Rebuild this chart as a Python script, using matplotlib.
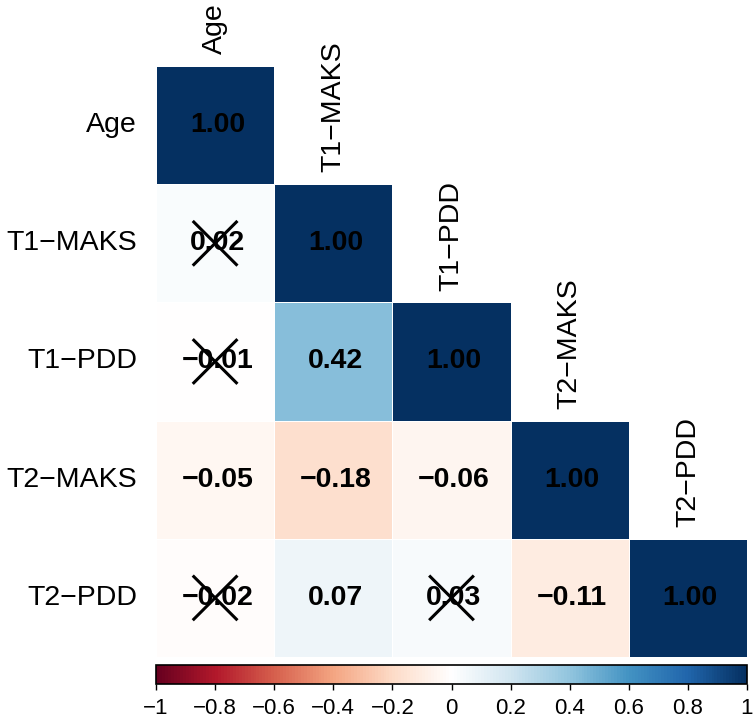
import numpy as np
import matplotlib
matplotlib.use('Agg')
import matplotlib.pyplot as plt
from matplotlib.colors import LinearSegmentedColormap, Normalize
from matplotlib.cm import ScalarMappable

plt.rcParams['font.family'] = ['Liberation Sans', 'DejaVu Sans']

variables = ['Age', 'T1−MAKS', 'T1−PDD', 'T2−MAKS', 'T2−PDD']

# lower triangle of correlation matrix, row by row
corr_rows = [
    [1.00],
    [0.02, 1.00],
    [-0.01, 0.42, 1.00],
    [-0.05, -0.18, -0.06, 1.00],
    [-0.02, 0.07, 0.03, -0.11, 1.00],
]

# (row, col) pairs that are not significant -> crossed out
insignificant = [(1, 0), (2, 0), (4, 0), (4, 2)]

cbar_ticks = [-1, -0.8, -0.6, -0.4, -0.2, 0, 0.2, 0.4, 0.6, 0.8, 1]
cbar_labels = ['−1', '−0.8', '−0.6', '−0.4', '−0.2', '0', '0.2', '0.4', '0.6', '0.8', '1']

# corrplot style RdBu palette (white in the middle)
rdbu = ["#67001F", "#B2182B", "#D6604D", "#F4A582", "#FDDBC7", "#FFFFFF",
        "#D1E5F0", "#92C5DE", "#4393C3", "#2166AC", "#053061"]
cmap = LinearSegmentedColormap.from_list('corr_rdbu', rdbu, N=200)
norm = Normalize(vmin=-1, vmax=1)

n = len(variables)
mat = np.full((n, n), np.nan)
for i, row in enumerate(corr_rows):
    for j, v in enumerate(row):
        mat[i, j] = v
masked = np.ma.masked_invalid(mat)

W, H = 753, 726
fig = plt.figure(figsize=(W / 100, H / 100), dpi=100)

ax = fig.add_axes([156 / W, (H - 657) / H, 591 / W, 591 / H])
ax.pcolormesh(np.arange(n + 1), np.arange(n + 1), masked, cmap=cmap, norm=norm,
              edgecolors='white', linewidth=0.6)
ax.set_xlim(0, n)
ax.set_ylim(n, 0)
ax.axis('off')

for i in range(n):
    for j in range(i + 1):
        ax.text(j + 0.52, i + 0.5, f"{mat[i, j]:.2f}".replace('-', '−'),
                ha='center', va='center', fontsize=20.5, fontweight='bold', color='black')

for (i, j) in insignificant:
    d = 0.18
    ax.plot([j + 0.5 - d, j + 0.5 + d], [i + 0.5 - d, i + 0.5 + d], color='black', lw=2.2)
    ax.plot([j + 0.5 - d, j + 0.5 + d], [i + 0.5 + d, i + 0.5 - d], color='black', lw=2.2)

# row labels on the left
for i, name in enumerate(variables):
    ax.text(-0.16, i + 0.5, name, ha='right', va='center', fontsize=20.5)

# column labels above diagonal cells
for j, name in enumerate(variables):
    ax.text(j + 0.5, j - 0.1, name, ha='center', va='bottom', rotation=90, fontsize=20.5)

cax = fig.add_axes([156 / W, (H - 684) / H, 591 / W, 19 / H])
cb = fig.colorbar(ScalarMappable(norm=norm, cmap=cmap), cax=cax, orientation='horizontal')
cb.set_ticks(cbar_ticks)
cb.set_ticklabels(cbar_labels)
cb.outline.set_linewidth(1.2)
cb.outline.set_edgecolor('black')
cax.tick_params(axis='x', direction='out', length=4, width=1, labelsize=16, pad=6)

fig.savefig('out.png', dpi=100)
